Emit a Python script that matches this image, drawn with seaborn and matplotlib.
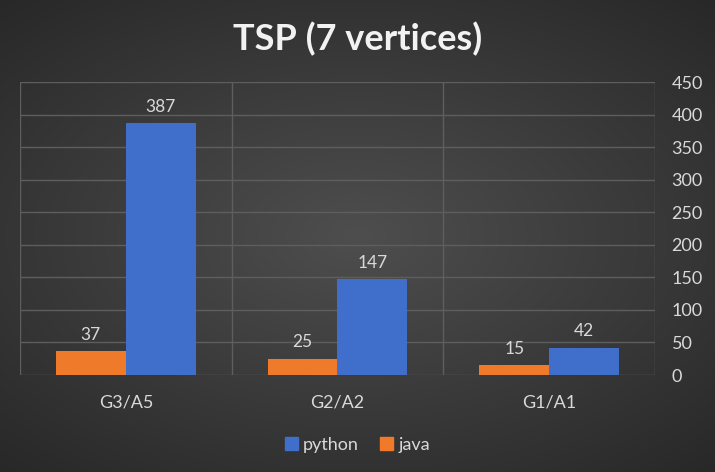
import numpy as np
import pandas as pd
import seaborn as sns
import matplotlib.pyplot as plt
from matplotlib.patches import Patch

# chart values
categories = ["G3/A5", "G2/A2", "G1/A1"]
java_ms = [37, 25, 15]
python_ms = [387, 147, 42]
y_ticks = [0, 50, 100, 150, 200, 250, 300, 350, 400, 450]

df = pd.DataFrame({
    "config": categories * 2,
    "lang": ["java"] * 3 + ["python"] * 3,
    "value": java_ms + python_ms,
})

sns.set_style("dark")
plt.rcParams['font.family'] = ['Lato', 'DejaVu Sans']
txt = "#d9d9d9"
colors = {"java": "#EF7A2A", "python": "#3F6FCB"}

fig = plt.figure(figsize=(7.15, 4.72), dpi=100)

# radial gray background
bg = fig.add_axes([0, 0, 1, 1], zorder=-10)
yy, xx = np.mgrid[-1:1:300j, -1:1:450j]
r = np.sqrt((xx * 0.9) ** 2 + (yy * 1.0) ** 2)
bg.imshow(r, cmap=sns.blend_palette(["#4e4e4e", "#282828"], as_cmap=True),
          aspect="auto", extent=[0, 1, 0, 1], vmin=0, vmax=1.35)
bg.axis("off")

ax = fig.add_axes([0.028, 0.2055, 0.888, 0.6205])
ax.patch.set_alpha(0)
sns.barplot(data=df, x="config", y="value", hue="lang", hue_order=["java", "python"],
            palette=colors, saturation=1, width=0.66, ax=ax, legend=False,
            linewidth=0, edgecolor="none", zorder=3)

for cont in ax.containers:
    ax.bar_label(cont, padding=6, color=txt, fontsize=12.5)

ax.set_ylim(0, 450)
ax.set_xlim(-0.5, 2.5)
ax.set_yticks(y_ticks)
ax.yaxis.tick_right()
ax.grid(False)
for t in y_ticks:
    ax.axhline(t, color="#5e5e5e", lw=1, zorder=1)
for x in [-0.5, 0.5, 1.5, 2.5]:
    ax.axvline(x, color="#5e5e5e", lw=1, zorder=1)
for s in ax.spines.values():
    s.set_visible(False)
ax.tick_params(axis="both", length=0, colors=txt, labelsize=13)
ax.tick_params(axis="x", pad=14)
ax.tick_params(axis="y", pad=12)
ax.set_xlabel("")
ax.set_ylabel("")

fig.text(0.5, 0.917, "TSP (7 vertices)", ha="center", va="center",
         fontsize=26, fontweight="bold", color="#f2f2f2")

handles = [Patch(color=colors["python"], label="python"),
           Patch(color=colors["java"], label="java")]
fig.legend(handles=handles, loc="center", bbox_to_anchor=(0.5, 0.058), ncol=2,
           frameon=False, fontsize=13, labelcolor=txt, handlelength=0.7,
           handleheight=0.7, handletextpad=0.3, columnspacing=1.2)

fig.savefig("out.png", dpi=100)
